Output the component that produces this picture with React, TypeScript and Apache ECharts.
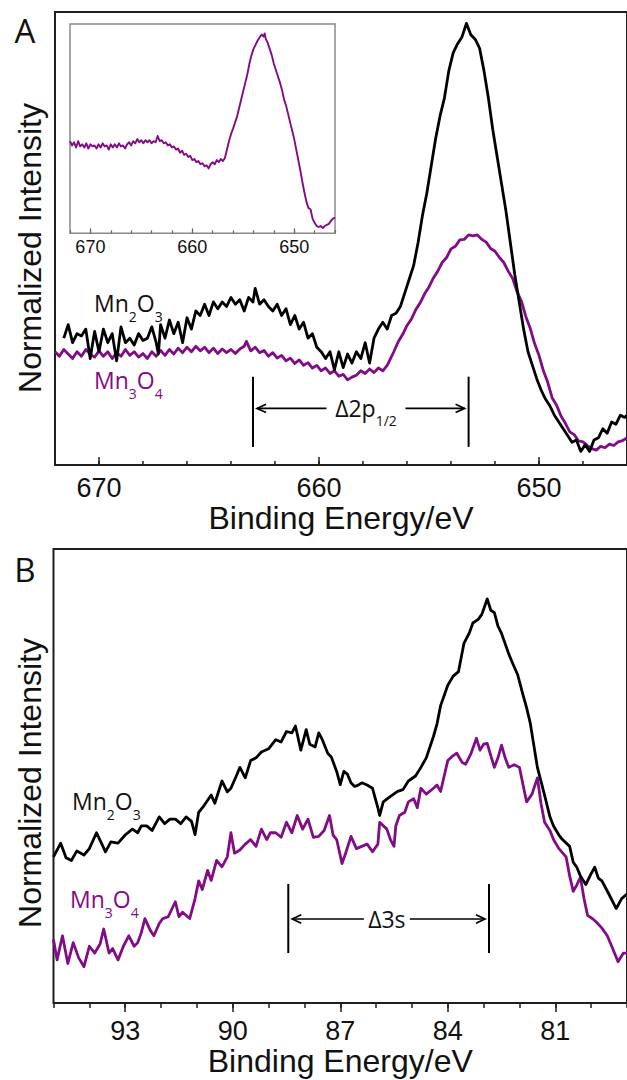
import React, { useEffect, useRef } from "react";
import * as echarts from "echarts";

// ---------- axis ranges / ticks ----------
const A_X_MIN = 646;
const A_X_MAX = 672;
const A_MAJOR_TICKS = [670, 660, 650];
const B_X_MIN = 79;
const B_X_MAX = 95;
const B_MAJOR_TICKS = [93, 90, 87, 84, 81];

// ---------- Panel A: Mn 2p region (binding energy eV, normalized intensity) ----------
const A_MN2O3: [number, number][] = [
  [671.6, 28], [671.4, 31], [671.2, 27], [671.0, 29], [670.8, 28.5], [670.6, 30], [670.4, 23.5], [670.2, 29.5],
  [670.0, 25], [669.8, 30], [669.6, 27], [669.4, 29], [669.2, 23], [669.0, 30.5], [668.8, 27], [668.6, 28],
  [668.4, 26.5], [668.2, 29], [668.0, 27.5], [667.8, 28], [667.6, 30.5], [667.4, 27], [667.3, 24.5], [667.2, 31],
  [667.0, 28], [666.8, 32], [666.6, 29], [666.4, 31.5], [666.2, 27], [666.0, 32.5], [665.8, 30], [665.6, 34],
  [665.4, 33], [665.2, 35.5], [665.0, 33], [664.8, 36], [664.6, 34.5], [664.4, 36], [664.2, 35], [664.0, 37],
  [663.8, 35.5], [663.6, 36.5], [663.4, 34], [663.2, 37], [663.0, 36], [662.9, 39], [662.7, 35.5], [662.5, 36.5],
  [662.3, 35], [662.1, 34], [661.9, 35.5], [661.7, 33], [661.5, 34.5], [661.3, 31], [661.1, 33], [660.9, 30],
  [660.7, 31.5], [660.5, 28], [660.3, 29], [660.1, 26], [659.9, 25], [659.7, 23.5], [659.5, 25], [659.3, 21],
  [659.1, 25], [658.9, 21.5], [658.7, 24.5], [658.5, 22.5], [658.3, 25], [658.1, 23.5], [657.9, 27], [657.7, 22.5],
  [657.5, 28], [657.3, 30], [657.1, 31.5], [656.9, 30], [656.7, 33], [656.5, 33.5], [656.3, 35], [656.1, 38],
  [655.9, 41], [655.7, 44], [655.5, 49], [655.3, 55], [655.1, 60], [654.9, 66], [654.7, 72], [654.5, 77],
  [654.3, 81], [654.1, 87], [653.9, 91], [653.7, 93], [653.5, 94.5], [653.3, 97.5], [653.1, 95], [652.9, 94],
  [652.7, 92], [652.5, 87], [652.3, 81], [652.1, 74], [651.9, 68], [651.7, 62], [651.5, 56], [651.3, 49],
  [651.1, 42], [650.9, 36], [650.7, 30], [650.5, 25], [650.3, 22], [650.1, 19], [649.9, 16.5], [649.7, 14.5],
  [649.5, 13], [649.3, 11], [649.1, 9.5], [648.9, 8], [648.7, 6.5], [648.5, 5], [648.3, 5.5], [648.1, 3],
  [647.9, 4.5], [647.7, 3], [647.5, 5.5], [647.3, 6], [647.1, 8], [646.9, 7], [646.7, 9.5], [646.5, 9],
  [646.3, 11], [646.1, 10.5], [646.0, 11],
];

const A_MN3O4: [number, number][] = [
  [672.0, 25], [671.8, 24], [671.6, 25.5], [671.4, 24.5], [671.2, 23.5], [671.0, 25], [670.8, 24], [670.6, 25.5],
  [670.4, 24.5], [670.2, 23.8], [670.0, 25.2], [669.8, 24], [669.6, 25], [669.4, 23.5], [669.2, 24.8], [669.0, 24],
  [668.8, 25.5], [668.6, 24.2], [668.4, 25], [668.2, 23.8], [668.0, 24.6], [667.8, 23.5], [667.6, 25], [667.4, 24],
  [667.2, 25.3], [667.0, 24.2], [666.8, 25.5], [666.6, 24.5], [666.4, 25.8], [666.2, 24.8], [666.0, 26], [665.8, 25],
  [665.6, 26.2], [665.4, 25.2], [665.2, 26], [665.0, 24.8], [664.8, 25.8], [664.6, 24.6], [664.4, 25.6], [664.2, 24.8],
  [664.0, 25.5], [663.8, 24.6], [663.6, 25.6], [663.4, 26.2], [663.3, 27.3], [663.1, 25.2], [662.9, 26], [662.7, 24.8],
  [662.5, 25.3], [662.3, 24], [662.1, 24.8], [661.9, 23.6], [661.7, 24.2], [661.5, 23], [661.3, 23.6], [661.1, 22.4],
  [660.9, 23.2], [660.7, 22], [660.5, 22.6], [660.3, 21.4], [660.1, 22], [659.9, 20.8], [659.7, 21.4], [659.5, 20.2],
  [659.3, 20.8], [659.1, 19.6], [658.9, 20], [658.7, 18.8], [658.5, 19.4], [658.3, 19.8], [658.1, 20.8], [657.9, 20.2],
  [657.7, 21.2], [657.5, 20.4], [657.3, 21.4], [657.1, 20.8], [656.9, 22], [656.8, 23], [656.6, 25], [656.4, 27.2],
  [656.2, 28.8], [656.0, 30.8], [655.8, 32.2], [655.6, 34.3], [655.4, 35.8], [655.2, 37.8], [655.0, 39.3], [654.8, 41.3],
  [654.6, 42.8], [654.4, 44.7], [654.2, 45.8], [654.0, 47.7], [653.8, 48.3], [653.6, 49.7], [653.4, 49.8], [653.2, 50.8],
  [653.0, 50.6], [652.8, 50.8], [652.6, 49.8], [652.4, 49.2], [652.2, 47.8], [652.0, 47.2], [651.8, 45.8], [651.6, 44.7],
  [651.4, 42.8], [651.2, 41.2], [651.0, 38.3], [650.8, 36.2], [650.6, 32.8], [650.4, 30.2], [650.2, 26.8], [650.0, 24.2],
  [649.8, 20.8], [649.6, 18.2], [649.4, 14.8], [649.2, 13.2], [649.0, 10.8], [648.8, 9.2], [648.6, 7.3], [648.4, 6.7],
  [648.2, 5.3], [648.0, 5.1], [647.8, 4.3], [647.6, 3.6], [647.4, 3.3], [647.2, 4.1], [647.0, 3.8], [646.8, 4.6],
  [646.6, 4.3], [646.4, 5.1], [646.2, 5.4], [646.0, 6],
];

const A_INSET: [number, number][] = [
  [672.0, 44], [671.8, 42], [671.6, 43.5], [671.4, 41], [671.2, 44], [671.0, 41.5], [670.8, 42.5], [670.6, 41],
  [670.4, 43], [670.2, 40.5], [670.0, 42.5], [669.8, 41.5], [669.6, 42], [669.4, 40.5], [669.2, 42.5], [669.0, 41],
  [668.8, 43], [668.6, 41.5], [668.4, 42], [668.2, 40], [668.0, 42.5], [667.8, 41], [667.6, 42.5], [667.4, 41],
  [667.2, 43], [667.0, 41.5], [666.8, 42], [666.6, 40.5], [666.4, 42.5], [666.2, 43.5], [666.0, 42], [665.8, 44],
  [665.6, 43], [665.4, 45], [665.2, 43.5], [665.0, 44.5], [664.8, 43], [664.6, 44.5], [664.4, 43.5], [664.2, 44.5],
  [664.0, 43], [663.8, 44], [663.6, 43.5], [663.4, 46.5], [663.2, 44], [663.0, 44.5], [662.8, 43], [662.6, 43.5],
  [662.4, 42], [662.2, 42.5], [662.0, 41], [661.8, 41.5], [661.6, 40], [661.4, 40.5], [661.2, 38.5], [661.0, 39.5],
  [660.8, 37.5], [660.6, 38], [660.4, 36.5], [660.2, 37], [660.0, 35], [659.8, 35.5], [659.6, 34], [659.4, 34.5],
  [659.2, 33], [659.0, 33.5], [658.8, 32], [658.6, 32.5], [658.4, 31], [658.2, 33], [658.0, 34], [657.8, 33],
  [657.6, 35], [657.4, 34], [657.2, 35.5], [657.0, 34.5], [656.8, 36], [656.6, 40], [656.4, 44], [656.2, 47.5],
  [656.0, 50], [655.8, 53], [655.6, 56], [655.4, 60], [655.2, 64], [655.0, 68], [654.8, 72], [654.6, 76],
  [654.4, 81], [654.2, 85], [654.0, 88], [653.8, 90], [653.6, 92], [653.4, 93.5], [653.2, 95], [653.0, 94],
  [652.9, 95.5], [652.8, 93], [652.6, 91], [652.4, 88], [652.2, 85], [652.0, 81], [651.8, 78], [651.6, 75],
  [651.4, 72], [651.2, 68.5], [651.0, 64], [650.8, 61], [650.6, 57], [650.4, 53], [650.2, 49], [650.0, 45],
  [649.8, 40], [649.6, 35], [649.4, 30], [649.2, 24.5], [649.0, 19.5], [648.8, 15], [648.6, 12], [648.4, 11.5],
  [648.2, 7], [648.0, 5], [647.8, 3.5], [647.6, 3], [647.4, 3.5], [647.2, 2.5], [647.0, 3.5], [646.8, 4],
  [646.6, 4.5], [646.4, 6], [646.2, 7], [646.0, 7.5],
];

// ---------- Panel B: Mn 3s region ----------
const B_MN2O3: [number, number][] = [
  [95.0, 32.2], [94.8, 35.2], [94.65, 32], [94.5, 31.4], [94.35, 33.5], [94.15, 32.6], [94.0, 34], [93.8, 37.5],
  [93.65, 35], [93.55, 33.3], [93.4, 35.5], [93.2, 35.2], [93.0, 37], [92.8, 38.3], [92.65, 37.5], [92.55, 39],
  [92.4, 39], [92.25, 38], [92.05, 41], [91.9, 39.5], [91.75, 40.5], [91.6, 40.5], [91.45, 39.5], [91.3, 41],
  [91.15, 40], [91.05, 37.1], [90.95, 42], [90.8, 43.5], [90.6, 45.8], [90.5, 44], [90.3, 48.9], [90.15, 46.5],
  [90.05, 47.3], [89.9, 50], [89.8, 51.9], [89.65, 49.6], [89.5, 53.4], [89.35, 54], [89.2, 55.3], [89.0, 56],
  [88.8, 58], [88.65, 57.5], [88.5, 59.8], [88.35, 59.5], [88.25, 61], [88.1, 55.7], [87.95, 60.2], [87.85, 57],
  [87.7, 56.4], [87.6, 59.5], [87.5, 58], [87.35, 55], [87.25, 54.2], [87.1, 51], [87.0, 48.1], [86.9, 51],
  [86.8, 50.4], [86.7, 48.5], [86.6, 47.7], [86.5, 48], [86.4, 48.5], [86.25, 48], [86.1, 47.3], [85.95, 43],
  [85.9, 41.3], [85.8, 44.3], [85.6, 45.5], [85.4, 46.6], [85.25, 47], [85.1, 48.9], [84.9, 50], [84.75, 51.9],
  [84.6, 54], [84.4, 58.7], [84.3, 61.5], [84.2, 65.5], [84.0, 70], [83.85, 72], [83.7, 73], [83.55, 79.2],
  [83.4, 81.5], [83.3, 83.7], [83.15, 84.5], [83.05, 85.6], [82.9, 89], [82.8, 86.5], [82.7, 86], [82.6, 83],
  [82.5, 81.4], [82.3, 76.9], [82.2, 75], [82.05, 72.3], [81.9, 67.8], [81.8, 65], [81.7, 61.7], [81.5, 51.9],
  [81.3, 45.8], [81.15, 41], [81.05, 39], [80.9, 37], [80.8, 36], [80.6, 34.5], [80.5, 31], [80.4, 29.9],
  [80.3, 28], [80.15, 26.1], [80.0, 28.5], [79.9, 29.9], [79.8, 27.5], [79.7, 26.9], [79.5, 23.9], [79.3, 20.8],
  [79.15, 23], [79.0, 24],
];

const B_MN3O4: [number, number][] = [
  [95.0, 14], [94.9, 9.5], [94.75, 14.8], [94.6, 8.7], [94.45, 13.3], [94.3, 10], [94.15, 8], [94.0, 12.5],
  [93.85, 11], [93.7, 13], [93.6, 16.3], [93.45, 11], [93.35, 12], [93.2, 9.5], [93.05, 12.5], [92.9, 14.8],
  [92.75, 12.5], [92.65, 13.3], [92.55, 15.5], [92.45, 18.6], [92.3, 16], [92.2, 14.8], [92.05, 17.5], [91.95, 18.6],
  [91.8, 19], [91.6, 22.3], [91.5, 19], [91.4, 20], [91.2, 18.6], [91.05, 23], [90.95, 26.9], [90.85, 25],
  [90.7, 29.2], [90.6, 27], [90.45, 31.4], [90.3, 30], [90.15, 32.2], [90.05, 37.5], [89.95, 33], [89.8, 33.7],
  [89.65, 35], [89.5, 36], [89.35, 34.5], [89.2, 38.3], [89.05, 36], [88.95, 37.5], [88.8, 37.5], [88.65, 36.5],
  [88.5, 39.8], [88.35, 37.5], [88.2, 41.3], [88.05, 38.3], [87.9, 40.5], [87.75, 36.5], [87.6, 36.7], [87.45, 38],
  [87.3, 41.3], [87.2, 37], [87.1, 36], [86.95, 30.7], [86.85, 33], [86.7, 36.7], [86.55, 34], [86.4, 34.5],
  [86.25, 35], [86.1, 33.3], [85.95, 35], [85.9, 39.8], [85.7, 38.3], [85.6, 36], [85.5, 34.5], [85.45, 39],
  [85.35, 41.3], [85.2, 42], [85.1, 44.3], [84.95, 45], [84.85, 43], [84.75, 47.3], [84.6, 46], [84.4, 47.3],
  [84.3, 48], [84.2, 46.6], [84.1, 50], [84.0, 53.4], [83.85, 54.5], [83.75, 55], [83.6, 53], [83.5, 52.6],
  [83.35, 55], [83.2, 58.3], [83.1, 55.7], [83.0, 57], [82.9, 57.2], [82.8, 54.5], [82.7, 51.9], [82.6, 54],
  [82.5, 56.8], [82.4, 54], [82.3, 51.9], [82.15, 52.5], [82.0, 51.9], [81.9, 48], [81.8, 44.3], [81.65, 46],
  [81.5, 49.6], [81.4, 44], [81.3, 39.8], [81.15, 38], [81.05, 36], [80.9, 34], [80.7, 32.2], [80.6, 28],
  [80.5, 24.6], [80.4, 26], [80.3, 27.7], [80.2, 23], [80.1, 19.3], [79.95, 18.5], [79.85, 17.8], [79.7, 16.5],
  [79.55, 14.8], [79.4, 12], [79.25, 9.1], [79.1, 11], [79.0, 11],
];

// ---------- annotation brackets (data coordinates) ----------
const A_BRACKET = {
  label: "Δ2p", sub: "1/2",
  left: 663.0, right: 653.2, leftLineEnd: 659.66, rightLineStart: 656.07,
  yTop: 19.5, yBottom: 4.0, yArrow: 12.5,
};
const B_BRACKET = {
  label: "Δ3s", sub: "",
  left: 88.45, right: 82.85, leftLineEnd: 86.34, rightLineStart: 85.06,
  yTop: 26.2, yBottom: 11, yArrow: 18.5,
};

const BLACK = "#000000";
const PURPLE = "#820c86";
const FRAME = "#1e1e1e";
const AXIS_FONT = "Liberation Sans";
const ANNO_FONT = "Open Sans";

function bracketSeries(b: any, xAxisIndex: number, yAxisIndex: number) {
  return {
    type: "custom",
    xAxisIndex,
    yAxisIndex,
    silent: true,
    clip: false,
    z: 5,
    data: [[b.left, b.yArrow]],
    renderItem: (_params: any, api: any) => {
      const [xl, yt] = api.coord([b.left, b.yTop]);
      const [, yb] = api.coord([b.left, b.yBottom]);
      const [xr] = api.coord([b.right, b.yTop]);
      const [xle, ya] = api.coord([b.leftLineEnd, b.yArrow]);
      const [xrs] = api.coord([b.rightLineStart, b.yArrow]);
      const gap = 4;
      const hl = 9;
      const hw = 4.2;
      const lt = xl + gap;
      const rt = xr - gap;
      const bar = { stroke: "#000", lineWidth: 2 };
      const arr = { stroke: "#000", lineWidth: 1.7, fill: "none" };
      const text = b.sub ? `{m|${b.label}}{s|${b.sub}}` : `{m|${b.label}}`;
      return {
        type: "group",
        children: [
          { type: "line", shape: { x1: xl, y1: yt, x2: xl, y2: yb }, style: bar },
          { type: "line", shape: { x1: xr, y1: yt, x2: xr, y2: yb }, style: bar },
          { type: "line", shape: { x1: lt, y1: ya, x2: xle, y2: ya }, style: arr },
          { type: "polyline", shape: { points: [[lt + hl, ya - hw], [lt, ya], [lt + hl, ya + hw]] }, style: arr },
          { type: "line", shape: { x1: xrs, y1: ya, x2: rt, y2: ya }, style: arr },
          { type: "polyline", shape: { points: [[rt - hl, ya - hw], [rt, ya], [rt - hl, ya + hw]] }, style: arr },
          {
            type: "text",
            x: (xle + xrs) / 2,
            y: ya,
            style: {
              text,
              align: "center",
              verticalAlign: "middle",
              rich: {
                m: { fontSize: 23, fontFamily: ANNO_FONT, fill: "#111", lineHeight: 38 },
                s: { fontSize: 14, fontFamily: ANNO_FONT, fill: "#111", lineHeight: 14, verticalAlign: "bottom" },
              },
            },
          },
        ],
      };
    },
  };
}

function chemLabel(x: number, y: number, a: string, n1: string, b: string, n2: string, color: string) {
  return {
    type: "text",
    x,
    y,
    z: 10,
    style: {
      text: `{m|${a}}{s|${n1}}{m|${b}}{s|${n2}}`,
      align: "left",
      verticalAlign: "middle",
      rich: {
        m: { fontSize: 23, fontFamily: ANNO_FONT, fill: color, lineHeight: 40 },
        s: { fontSize: 14, fontFamily: ANNO_FONT, fill: color, lineHeight: 14, verticalAlign: "bottom" },
      },
    },
  };
}

function lineSeries(name: string, data: [number, number][], color: string, xAxisIndex: number, yAxisIndex: number, width: number) {
  return {
    name,
    type: "line",
    data,
    xAxisIndex,
    yAxisIndex,
    showSymbol: false,
    symbol: "none",
    smooth: false,
    lineStyle: { color, width, join: "round" },
    itemStyle: { color },
    z: 3,
  };
}

function majorAxis(gridIndex: number, min: number, max: number, ticks: number[], o: any) {
  return {
    gridIndex,
    type: "value",
    position: "bottom",
    min,
    max,
    inverse: true,
    axisLine: { show: false },
    splitLine: { show: false },
    axisTick: {
      show: true,
      inside: o.inside,
      length: o.tickLen,
      customValues: ticks,
      lineStyle: { color: o.tickColor, width: o.tickWidth },
    },
    axisLabel: {
      customValues: ticks,
      fontSize: o.fontSize,
      fontFamily: AXIS_FONT,
      color: "#111",
      margin: o.margin,
    },
    name: o.name || "",
    nameLocation: "middle",
    nameGap: o.nameGap || 0,
    nameTextStyle: { fontSize: 32, fontFamily: AXIS_FONT, color: "#111" },
  };
}

function minorAxis(gridIndex: number, min: number, max: number, interval: number, o: any) {
  return {
    gridIndex,
    type: "value",
    position: "bottom",
    min,
    max,
    interval,
    inverse: true,
    axisLine: { show: false },
    splitLine: { show: false },
    axisLabel: { show: false },
    axisTick: {
      show: true,
      inside: o.inside,
      length: o.tickLen,
      lineStyle: { color: o.tickColor, width: o.tickWidth },
    },
  };
}

export default function App() {
  const ref = useRef<HTMLDivElement>(null);

  useEffect(() => {
    if (!ref.current) return;
    const chart = echarts.init(ref.current, undefined, { renderer: "svg" });

    const option: any = {
      animation: false,
      backgroundColor: "#ffffff",
      textStyle: { fontFamily: AXIS_FONT },
      grid: [
        { left: 55, top: 12, width: 574.6, height: 453, show: true, borderColor: FRAME, borderWidth: 2, backgroundColor: "transparent" },
        { left: 70, top: 24, width: 265, height: 209.3, show: true, borderColor: "#8a8a8a", borderWidth: 1.5, backgroundColor: "#ffffff" },
        { left: 53.5, top: 549, width: 576, height: 454, show: true, borderColor: FRAME, borderWidth: 2, backgroundColor: "transparent" },
      ],
      xAxis: [
        majorAxis(0, A_X_MIN, A_X_MAX, A_MAJOR_TICKS, {
          inside: true, tickLen: 8, tickColor: FRAME, tickWidth: 1.5, fontSize: 27, margin: 9,
          name: "Binding Energy/eV", nameGap: 36,
        }),
        minorAxis(0, A_X_MIN, A_X_MAX, 2, { inside: true, tickLen: 4, tickColor: FRAME, tickWidth: 1.5 }),
        majorAxis(1, A_X_MIN, A_X_MAX, A_MAJOR_TICKS, {
          inside: true, tickLen: 5, tickColor: "#666", tickWidth: 1.2, fontSize: 18, margin: 5,
        }),
        minorAxis(1, A_X_MIN, A_X_MAX, 2, { inside: true, tickLen: 3, tickColor: "#666", tickWidth: 1.2 }),
        majorAxis(2, B_X_MIN, B_X_MAX, B_MAJOR_TICKS, {
          inside: false, tickLen: 9, tickColor: FRAME, tickWidth: 1.5, fontSize: 27, margin: 14,
          name: "Binding Energy/eV", nameGap: 34,
        }),
        minorAxis(2, B_X_MIN, B_X_MAX, 1, { inside: false, tickLen: 5, tickColor: FRAME, tickWidth: 1.5 }),
      ],
      yAxis: [
        { gridIndex: 0, type: "value", min: 0, max: 100, show: false },
        { gridIndex: 1, type: "value", min: 0, max: 100, show: false },
        { gridIndex: 2, type: "value", min: 0, max: 100, show: false },
      ],
      series: [
        lineSeries("Mn3O4", A_MN3O4, PURPLE, 0, 0, 2.8),
        lineSeries("Mn2O3", A_MN2O3, BLACK, 0, 0, 2.8),
        lineSeries("inset", A_INSET, PURPLE, 2, 1, 1.9),
        lineSeries("Mn3O4 3s", B_MN3O4, PURPLE, 4, 2, 2.8),
        lineSeries("Mn2O3 3s", B_MN2O3, BLACK, 4, 2, 2.8),
        bracketSeries(A_BRACKET, 0, 0),
        bracketSeries(B_BRACKET, 4, 2),
      ],
      graphic: [
        { type: "text", x: 25, y: 30, style: { text: "A", fontSize: 33, fontFamily: ANNO_FONT, fill: "#111", align: "center", verticalAlign: "middle" } },
        { type: "text", x: 25, y: 569, style: { text: "B", fontSize: 33, fontFamily: ANNO_FONT, fill: "#111", align: "center", verticalAlign: "middle" } },
        { type: "text", x: 30, y: 248, rotation: Math.PI / 2, style: { text: "Normalized Intensity", fontSize: 32, fontFamily: AXIS_FONT, fill: "#111", align: "center", verticalAlign: "middle" } },
        { type: "text", x: 30, y: 783, rotation: Math.PI / 2, style: { text: "Normalized Intensity", fontSize: 32, fontFamily: AXIS_FONT, fill: "#111", align: "center", verticalAlign: "middle" } },
        chemLabel(94, 303, "Mn", "2", "O", "3", "#111"),
        chemLabel(94, 380, "Mn", "3", "O", "4", PURPLE),
        chemLabel(72, 801, "Mn", "2", "O", "3", "#111"),
        chemLabel(70, 899, "Mn", "3", "O", "4", PURPLE),
      ],
    };

    chart.setOption(option);
    return () => chart.dispose();
  }, []);

  return (
    <div
      ref={ref}
      style={{ position: "absolute", left: 0, top: 0, width: 627, height: 1080, background: "#fff" }}
    />
  );
}
